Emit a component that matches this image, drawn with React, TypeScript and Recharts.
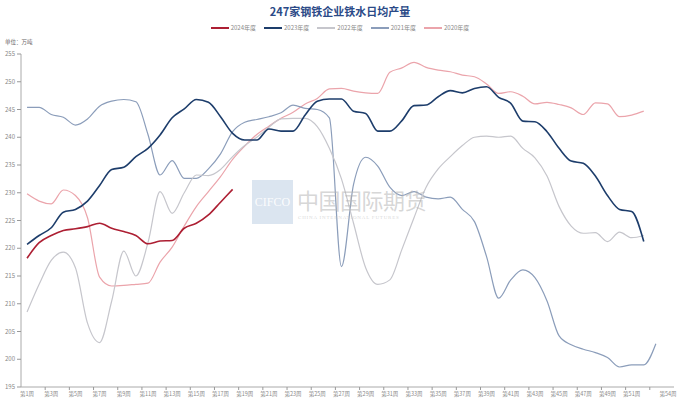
import React from 'react';
import { LineChart, Line, XAxis, YAxis } from 'recharts';

const weeks = [
  '第1周', '第2周', '第3周', '第4周', '第5周', '第6周', '第7周', '第8周', '第9周', '第10周',
  '第11周', '第12周', '第13周', '第14周', '第15周', '第16周', '第17周', '第18周', '第19周', '第20周',
  '第21周', '第22周', '第23周', '第24周', '第25周', '第26周', '第27周', '第28周', '第29周', '第30周',
  '第31周', '第32周', '第33周', '第34周', '第35周', '第36周', '第37周', '第38周', '第39周', '第40周',
  '第41周', '第42周', '第43周', '第44周', '第45周', '第46周', '第47周', '第48周', '第49周', '第50周',
  '第51周', '第52周', '第53周', '第54周',
];

const y2024 = [218.2, 221.0, 222.3, 223.2, 223.5, 223.9, 224.5, 223.6, 223.0, 222.3, 220.8, 221.3, 221.4, 223.6, 224.5, 226.0, 228.3, 230.6];

const y2023 = [220.7, 222.3, 223.7, 226.5, 227.0, 228.5, 231.3, 234.2, 234.6, 236.5,
  238.0, 240.4, 243.5, 245.1, 246.8, 246.3, 243.7, 240.7, 239.5, 239.5,
  241.5, 241.1, 241.1, 244.0, 246.5, 246.9, 246.9, 244.7, 244.3, 241.1,
  241.1, 243.0, 245.7, 245.8, 247.3, 248.4, 248.0, 248.8, 249.1, 247.2,
  246.1, 242.9, 242.8, 241.0, 238.0, 235.7, 235.3, 233.0, 229.5, 227.0,
  226.6, 221.2];

const y2022 = [208.5, 213.5, 217.8, 219.3, 216.5, 206.5, 203.0, 210.5, 219.5, 215.0,
  221.0, 230.2, 226.3, 230.0, 233.2, 233.1, 234.2, 236.5, 238.5, 240.0,
  241.8, 243.3, 243.4, 243.4, 241.9, 238.0, 232.5, 224.5, 216.5, 213.5,
  214.3, 219.8, 225.5, 231.0, 234.3, 236.5, 238.5, 240.0, 240.2, 240.0,
  240.2, 238.0, 236.3, 233.0, 227.5, 224.0, 222.7, 222.8, 221.2, 222.9,
  221.9, 222.3];

const y2021 = [245.4, 245.4, 244.1, 243.6, 242.2, 243.3, 245.6, 246.5, 246.8, 246.4,
  240.5, 233.2, 235.8, 232.6, 232.6, 234.3, 237.0, 241.0, 242.7, 243.2,
  243.7, 244.4, 245.8, 245.2, 245.0, 243.5, 216.7, 231.5, 236.4, 234.8,
  231.0, 229.5, 230.2, 229.2, 228.9, 229.2, 227.0, 224.8, 218.5, 211.0,
  214.3, 216.1, 214.7, 210.5, 204.2, 202.6, 201.8, 201.2, 200.3, 198.6,
  199.0, 199.0, 202.8];

const y2020 = [229.8, 228.5, 228.0, 230.5, 229.5, 225.5, 214.8, 213.2, 213.3, 213.5,
  213.7, 217.5, 220.2, 224.0, 227.5, 230.2, 232.9, 236.0, 238.4, 240.5,
  242.0, 243.4, 244.5, 246.0, 247.0, 248.7, 248.8, 248.3, 248.0, 247.9,
  251.7, 252.5, 253.5, 252.6, 252.1, 251.8, 251.2, 250.9, 249.6, 247.9,
  248.2, 247.4, 246.0, 246.3, 245.9, 245.3, 244.1, 246.2, 246.0, 243.7,
  244.0, 244.7];

const yTicks = [195, 200, 205, 210, 215, 220, 225, 230, 235, 240, 245, 250, 255];

const series = [
  { key: 'y2024', name: '2024年度', color: '#ad1f33', width: 1.6 },
  { key: 'y2023', name: '2023年度', color: '#1d3d6b', width: 1.6 },
  { key: 'y2022', name: '2022年度', color: '#c6c6cc', width: 1.2 },
  { key: 'y2021', name: '2021年度', color: '#8b9dba', width: 1.2 },
  { key: 'y2020', name: '2020年度', color: '#eba4ab', width: 1.2 },
];

const data = weeks.map((w, i) => ({
  week: w,
  y2024: y2024[i] ?? null,
  y2023: y2023[i] ?? null,
  y2022: y2022[i] ?? null,
  y2021: y2021[i] ?? null,
  y2020: y2020[i] ?? null,
}));

const FONT = '"Noto Sans CJK SC", "Noto Sans", sans-serif';

const XTick = (props: any) => {
  const { x, y, payload } = props;
  const n = parseInt(String(payload.value).replace(/\D/g, ''), 10);
  const half = 6.05;
  const showLabel = (n % 2 === 1 && n <= 51) || n === 54;
  const showTick = n % 2 === 1 && n >= 3 && n <= 53;
  return (
    <g>
      {showTick && (
        <line x1={x - half} x2={x - half} y1={y} y2={y + 3} stroke="#999" strokeWidth={1} />
      )}
      {showLabel && (
        <text x={x} y={y + 8.5} textAnchor="middle" fontSize={5.5} fill="#888" fontFamily={FONT}>
          {payload.value}
        </text>
      )}
    </g>
  );
};

export default function App() {
  return (
    <div style={{ position: 'absolute', left: 0, top: 0, width: 680, height: 401, background: '#fff', fontFamily: FONT }}>
      <div style={{ position: 'absolute', top: 3, left: 0, width: 680, textAlign: 'center', fontSize: 11, lineHeight: '16px', fontWeight: 'bold', color: '#2b4a87' }}>
        247家钢铁企业铁水日均产量
      </div>
      <div style={{ position: 'absolute', top: 23, left: 0, width: 680, display: 'flex', justifyContent: 'center', alignItems: 'center', gap: 8 }}>
        {series.map((s) => (
          <div key={s.key} style={{ display: 'flex', alignItems: 'center', gap: 2 }}>
            <div style={{ width: 18, height: 2, background: s.color }} />
            <span style={{ fontSize: 6, color: '#888', lineHeight: '10px' }}>{s.name}</span>
          </div>
        ))}
      </div>
      <div style={{ position: 'absolute', top: 37, left: 5, fontSize: 5.5, color: '#666', lineHeight: '10px' }}>单位：万吨</div>
      <LineChart width={680} height={401} data={data} margin={{ top: 54, right: 6, bottom: 0, left: 0 }}>
        <XAxis
          dataKey="week"
          height={14}
          interval={0}
          padding={{ left: 6.05, right: 6.05 }}
          tickSize={0}
          tickMargin={0}
          tickLine={false}
          axisLine={{ stroke: '#aaa' }}
          tick={<XTick />}
        />
        <YAxis
          yAxisId="l"
          width={21}
          domain={[195, 255]}
          ticks={yTicks}
          interval={0}
          tickSize={4}
          tickMargin={2}
          tickLine={{ stroke: '#999' }}
          axisLine={{ stroke: '#aaa' }}
          tick={{ fontSize: 6, fill: '#888', fontFamily: FONT }}
          allowDataOverflow
        />
        <YAxis
          yAxisId="r"
          orientation="right"
          width={0}
          domain={[195, 255]}
          tick={false}
          tickLine={false}
          axisLine={{ stroke: '#bbb' }}
        />
        {series.slice().reverse().map((s) => (
          <Line
            key={s.key}
            yAxisId="l"
            type="monotone"
            dataKey={s.key}
            name={s.name}
            stroke={s.color}
            strokeWidth={s.width}
            dot={false}
            activeDot={false}
            isAnimationActive={false}
          />
        ))}
      </LineChart>
      <div style={{ position: 'absolute', left: 252, top: 180, width: 41, height: 44, background: 'rgba(190,208,228,0.55)', color: 'rgba(255,255,255,0.9)', fontFamily: 'serif', fontSize: 12, lineHeight: '44px', textAlign: 'center', pointerEvents: 'none' }}>
        CIFCO
      </div>
      <div style={{ position: 'absolute', left: 297, top: 188, fontSize: 22, lineHeight: '22px', color: 'rgba(180,180,180,0.55)', letterSpacing: -0.5, pointerEvents: 'none' }}>
        中国国际期货
      </div>
      <div style={{ position: 'absolute', left: 298, top: 214, width: 132, fontSize: 5, lineHeight: '7px', color: 'rgba(190,190,190,0.6)', letterSpacing: 0.8, fontFamily: 'serif', pointerEvents: 'none' }}>
        CHINA INTERNATIONAL FUTURES
      </div>
    </div>
  );
}
